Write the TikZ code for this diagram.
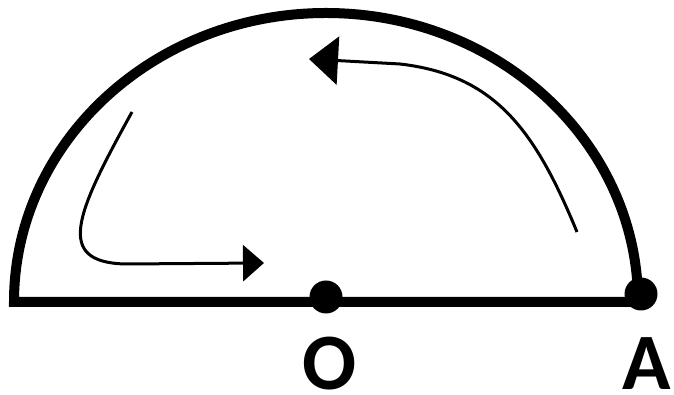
\documentclass[tikz,border=0pt]{standalone}
\usepackage{fontspec}
\setmainfont{Carlito}
\usetikzlibrary{arrows.meta}
\tikzset{
  rim/.style={line width=10pt,line join=miter},
  flow/.style={line width=3pt},
  lbl/.style={font=\fontsize{80}{80}\selectfont\bfseries,inner sep=0pt},
  dot/.style={circle,fill=black,inner sep=0pt,minimum size=33pt}
}
\begin{document}
\begin{tikzpicture}[x=1pt,y=1pt]
\useasboundingbox (0,0) rectangle (674,395);
\coordinate (A) at (638,93);
\draw[rim] (A) arc[start angle=0,end angle=180,x radius=312,y radius=289] -- cycle;
\node[dot] (o) at (326,98) {};
\node[dot] (a) at (641,101) {};
\node[lbl] (olbl) at (330,31) {O};
\node[lbl] (albl) at (647,31) {A};
% circulation arrows
\coordinate (s1) at (577,163);
\coordinate (t1) at (309,336);
\coordinate (s2) at (132,283);
\coordinate (t2) at (264,132);
\draw[flow,-{Triangle[length=29pt,width=48pt]}] (s1) .. controls (535,265) and (495,320) .. (400,331) -- (t1);
\draw[flow,-{Triangle[length=21pt,width=36pt]}] (s2) .. controls (75,180) and (55,133) .. (125,131) -- (t2);
\end{tikzpicture}
\end{document}
